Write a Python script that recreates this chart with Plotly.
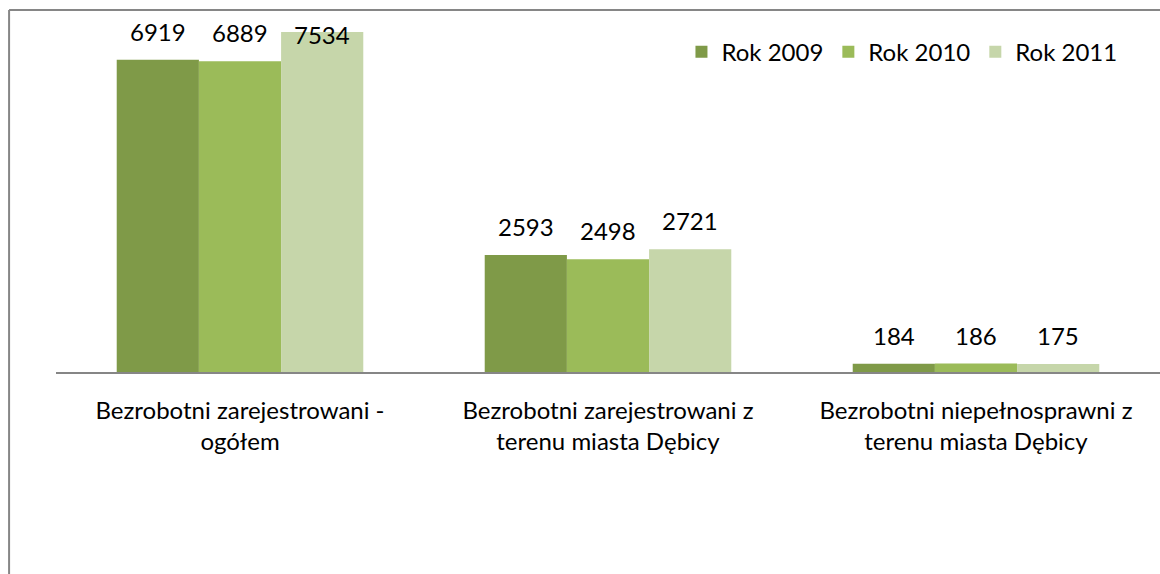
import plotly.graph_objects as go

categories = ["Bezrobotni zarejestrowani -<br>ogółem",
              "Bezrobotni zarejestrowani z<br>terenu miasta Dębicy",
              "Bezrobotni niepełnosprawni z<br>terenu miasta Dębicy"]
series_names = ["Rok 2009", "Rok 2010", "Rok 2011"]
values_2009 = [6919, 2593, 184]
values_2010 = [6889, 2498, 186]
values_2011 = [7534, 2721, 175]
colors = ["#7f9a48", "#9bbb59", "#c6d6aa"]

FONT = "Lato"
BARGAP = 0.33
Y_MAX = 8000
LABEL_CLAMP = 7400  # labels for bars higher than this are pinned to the top of the plot area
all_values = [values_2009, values_2010, values_2011]
n_series = len(all_values)

fig = go.Figure()
for name, vals, col in zip(series_names, all_values, colors):
    fig.add_trace(go.Bar(
        x=categories, y=vals, name=name,
        marker=dict(color=col, line=dict(width=0)),
    ))

# data labels above each bar (category index + group offset in data units)
slot = (1 - BARGAP) / n_series
annotations = []
for s, vals in enumerate(all_values):
    for i, v in enumerate(vals):
        pinned = v > LABEL_CLAMP
        annotations.append(dict(
            x=i + (s - (n_series - 1) / 2) * slot,
            y=Y_MAX if pinned else v, xref="x", yref="y",
            text=str(v), showarrow=False,
            yanchor="top" if pinned else "bottom", xanchor="center",
            yshift=-7 if pinned else 12,
            font=dict(family=FONT, size=24, color="#000000"),
        ))

fig.update_layout(
    width=1160, height=574,
    margin=dict(l=56, r=0, t=11, b=202),
    paper_bgcolor="white", plot_bgcolor="white",
    barmode="group", bargap=BARGAP, bargroupgap=0,
    font=dict(family=FONT, size=24, color="#000000"),
    showlegend=True,
    legend=dict(orientation="h", x=0.966, xanchor="right", y=0.886, yanchor="middle",
                font=dict(family=FONT, size=24), itemwidth=30, traceorder="normal",
                bgcolor="rgba(0,0,0,0)"),
    xaxis=dict(showgrid=False, showline=True, linecolor="#868686", linewidth=2,
               ticks="outside", ticklen=16, tickcolor="rgba(0,0,0,0)",
               tickfont=dict(family=FONT, size=24, color="#000000")),
    yaxis=dict(range=[0, Y_MAX], showgrid=False, showline=False, showticklabels=False,
               zeroline=False, ticks=""),
    annotations=annotations,
    shapes=[
        dict(type="line", xref="paper", yref="paper", x0=-0.0425, x1=1.0, y0=1.0028, y1=1.0028,
             line=dict(color="#868686", width=2)),
        dict(type="line", xref="paper", yref="paper", x0=-0.0425, x1=-0.0425, y0=1.0028, y1=-0.56,
             line=dict(color="#868686", width=2)),
    ],
)

fig.write_html("out.html", config={"displayModeBar": False},
               post_script="document.body.style.margin='0';")
